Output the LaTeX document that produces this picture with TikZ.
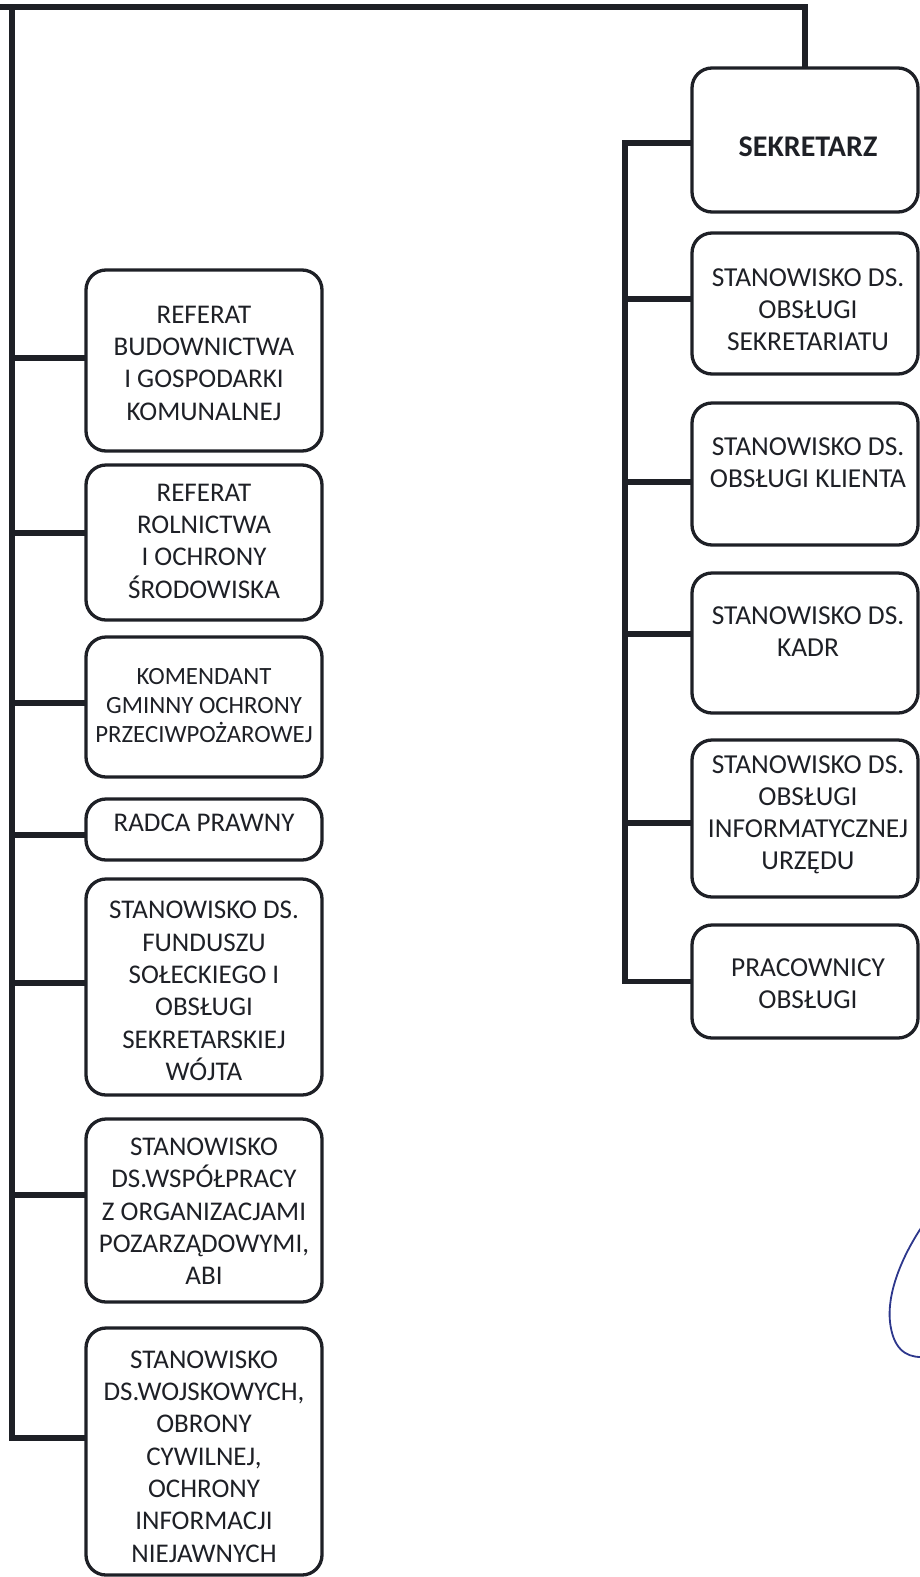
\documentclass[tikz,border=0pt]{standalone}
\usepackage{fontspec}
\setmainfont{Carlito}
\definecolor{ink}{RGB}{30,32,38}
\definecolor{pen}{RGB}{45,55,140}
\tikzset{
	box/.style={draw=ink, line width=3.3pt, rounded corners=20pt, inner sep=0pt},
	conn/.style={draw=ink, line width=5.3pt, line cap=rect},
	lbl/.style={align=center, inner sep=0pt, text=ink, font=\fontsize{27}{32.3}\selectfont},
	rlbl/.style={lbl, font=\fontsize{27.4}{32}\selectfont},
	sig/.style={draw=pen, line width=1.8pt}
}
\begin{document}
\begin{tikzpicture}[x=1pt,y=-1pt]
	\useasboundingbox (0,0) rectangle (920,1577);
	
	%Right Column of Boxes
	\foreach \n/\y/\h in {sek/140/144, sekr/303.5/141, kli/474/142, kad/643/140, inf/818.5/157, pra/981.5/113}
	\node[box, minimum width=226pt, minimum height=\h pt] (\n) at (805,\y) {};
	
	%Left Column of Boxes
	\foreach \n/\y/\h in {bud/360.5/181, rol/542.5/155, kom/707/140, rad/829.5/61, fun/987/216, wsp/1210.5/183, woj/1451.5/247}
	\node[box, minimum width=236pt, minimum height=\h pt] (\n) at (204,\y) {};
	
	%Texts on the Right
	\node[rlbl] (sek-t) at (808,146.5) {\bfseries\fontsize{30}{34}\selectfont SEKRETARZ};
	\node[rlbl] (sekr-t) at (808,310) {STANOWISKO DS.\\OBSŁUGI\\SEKRETARIATU};
	\node[rlbl] (kli-t) at (808,463) {STANOWISKO DS.\\OBSŁUGI KLIENTA};
	\node[rlbl] (kad-t) at (808,632) {STANOWISKO DS.\\KADR};
	\node[rlbl] (inf-t) at (808,815) {STANOWISKO DS.\\OBSŁUGI\\INFORMATYCZNEJ\\URZĘDU};
	\node[rlbl] (pra-t) at (808,984) {PRACOWNICY\\OBSŁUGI};
	
	%Texts on the Left
	\node[lbl] (bud-t) at (204,363) {REFERAT\\BUDOWNICTWA\\I GOSPODARKI\\KOMUNALNEJ};
	\node[lbl] (rol-t) at (204,541) {REFERAT\\ROLNICTWA\\I OCHRONY\\ŚRODOWISKA};
	\node[lbl, font=\fontsize{24.8}{29}\selectfont] (kom-t) at (204,706) {KOMENDANT\\GMINNY OCHRONY\\PRZECIWPOŻAROWEJ};
	\node[lbl] (rad-t) at (204,823) {RADCA PRAWNY};
	\node[lbl] (fun-t) at (204,991) {STANOWISKO DS.\\FUNDUSZU\\SOŁECKIEGO I\\OBSŁUGI\\SEKRETARSKIEJ\\WÓJTA};
	\node[lbl] (wsp-t) at (204,1211.5) {STANOWISKO\\DS.WSPÓŁPRACY\\Z ORGANIZACJAMI\\POZARZĄDOWYMI,\\ABI};
	\node[lbl] (woj-t) at (204,1456.5) {STANOWISKO\\DS.WOJSKOWYCH,\\OBRONY\\CYWILNEJ,\\OCHRONY\\INFORMACJI\\NIEJAWNYCH};
	
	%Top Line and Trunks
	\coordinate (tl) at (0,7);
	\coordinate (lt) at (12,7);
	\coordinate (rt) at (625,0);
	\draw[conn] (tl) -| (sek.north);
	
	%Stubs to the Left Boxes
	\foreach \n/\s in {bud/2.5, rol/9.5, kom/4, rad/-5.5, fun/4, wsp/15.5, woj/13.5}
	{\coordinate (s\n) at ([yshift=\s pt]\n.west);
	\draw[conn] (s\n -| lt) -- (s\n);}
	\draw[conn] (lt) -- (lt |- swoj);
	
	%Stubs to the Right Boxes
	\foreach \n/\s in {sek/-3, sekr/4.5, kli/-8, kad/9, inf/-4.5, pra/0}
	{\coordinate (s\n) at ([yshift=\s pt]\n.west);
	\draw[conn] (s\n -| rt) -- (s\n);}
	\draw[conn] (ssek -| rt) -- (spra -| rt);
	
	%Pen Stroke
	\draw[sig] (921,1228) .. controls (900,1260) and (887,1295) .. (890,1322) .. controls (893,1348) and (905,1357) .. (921,1357);
	
\end{tikzpicture}
\end{document}
